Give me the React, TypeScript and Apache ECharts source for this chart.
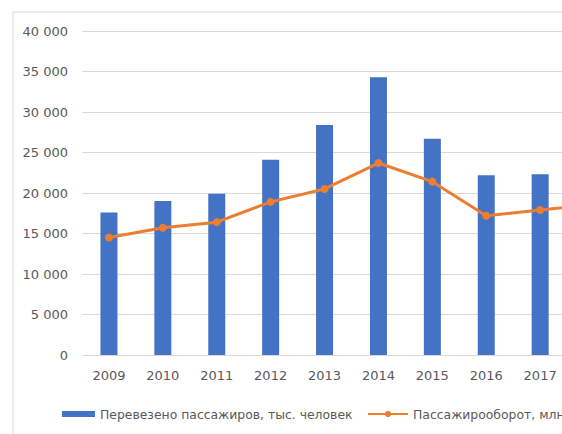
import React, { useEffect, useRef } from "react";
import * as echarts from "echarts";

const categories = ["2009", "2010", "2011", "2012", "2013", "2014", "2015", "2016", "2017", "2018"];
const passengers = [17600, 19000, 19900, 24100, 28400, 34300, 26700, 22200, 22300, null];
const turnover = [14500, 15700, 16400, 18900, 20500, 23700, 21400, 17200, 17900, 18600];
const yTicks = [0, 5000, 10000, 15000, 20000, 25000, 30000, 35000, 40000];
const barName = "Перевезено пассажиров, тыс. человек";
const lineName = "Пассажирооборот, млн пасс.-км";

const fmt = (v: number) => String(v).replace(/\B(?=(\d{3})+(?!\d))/g, " ");

export default function App() {
  const ref = useRef<HTMLDivElement>(null);
  useEffect(() => {
    if (!ref.current) return;
    const chart = echarts.init(ref.current, undefined, { renderer: "svg" });
    const font = "'DejaVu Sans', sans-serif";
    chart.setOption({
      animation: false,
      backgroundColor: "#ffffff",
      textStyle: { fontFamily: font },
      graphic: [
        {
          type: "rect",
          shape: { x: 13, y: 12, width: 800, height: 600 },
          style: { fill: "none", stroke: "#d9d9d9", lineWidth: 1 },
          silent: true,
        },
      ],
      grid: { left: 82, right: 19, top: 31, bottom: 79, containLabel: false },
      legend: [
        {
          data: [barName],
          left: 57,
          top: 403,
          itemWidth: 33,
          itemHeight: 6,
          icon: "rect",
          textStyle: { color: "#595959", fontSize: 12.4, fontFamily: font },
        },
        {
          data: [lineName],
          left: 362,
          top: 403,
          itemWidth: 40,
          itemHeight: 8,
          textStyle: { color: "#595959", fontSize: 12.4, fontFamily: font },
        },
      ],
      xAxis: {
        type: "category",
        data: categories,
        axisLine: { show: false },
        axisTick: { show: false },
        axisLabel: { color: "#595959", fontSize: 13, margin: 14, fontFamily: font },
      },
      yAxis: {
        type: "value",
        min: 0,
        max: 40000,
        interval: 5000,
        axisLine: { show: false },
        axisTick: { show: false },
        splitLine: { lineStyle: { color: "#d9d9d9", width: 1 } },
        axisLabel: {
          color: "#595959",
          fontSize: 13,
          margin: 14,
          fontFamily: font,
          formatter: (v: number) => (yTicks.includes(v) ? fmt(v) : ""),
        },
      },
      series: [
        {
          name: barName,
          type: "bar",
          data: passengers,
          barWidth: 17,
          itemStyle: { color: "#4472C4" },
        },
        {
          name: lineName,
          type: "line",
          data: turnover,
          symbol: "circle",
          symbolSize: 8,
          lineStyle: { color: "#ED7D31", width: 3 },
          itemStyle: { color: "#ED7D31" },
        },
      ],
    });
    return () => chart.dispose();
  }, []);
  return (
    <div style={{ position: "fixed", left: 0, top: 0, width: 562, height: 434, overflow: "hidden", background: "#fff" }}>
      <div ref={ref} style={{ width: 640, height: 434 }} />
    </div>
  );
}
